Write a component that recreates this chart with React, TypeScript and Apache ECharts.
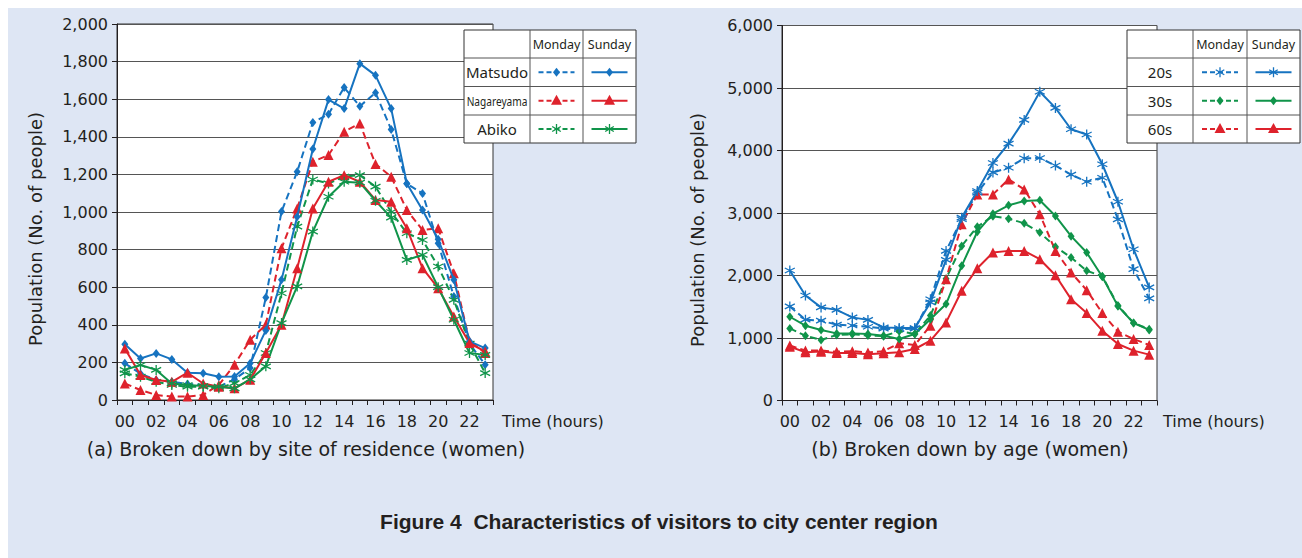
import React, { useEffect, useRef } from 'react';
import * as echarts from 'echarts';

// ---------- data ----------
const hours = ['00','01','02','03','04','05','06','07','08','09','10','11','12','13','14','15','16','17','18','19','20','21','22','23'];

// (a) by site of residence (women)
const matsudoMon = [195,140,106,97,85,80,71,110,170,545,1002,1214,1476,1520,1662,1563,1634,1439,1150,1099,834,550,300,188];
const matsudoSun = [297,221,248,216,145,142,124,125,195,370,639,975,1335,1598,1550,1789,1727,1550,1152,1011,855,640,312,276];
const nagareyamaMon = [88,53,27,18,18,27,80,188,320,400,807,1019,1267,1303,1427,1471,1255,1188,1011,904,913,674,312,250];
const nagareyamaSun = [274,133,106,97,145,88,71,62,108,250,400,701,1019,1161,1196,1161,1064,1055,913,701,595,444,303,258];
const abikoMon = [142,124,97,80,71,71,62,90,133,250,568,922,1173,1152,1188,1196,1135,1000,887,851,710,533,300,143];
const abikoSun = [160,186,160,88,80,74,71,62,110,179,409,604,896,1081,1161,1156,1060,970,745,772,600,427,250,240];

// (b) by age (women)
const age20Mon = [1505,1293,1277,1213,1200,1180,1150,1140,1150,1620,2394,2900,3325,3650,3724,3876,3880,3760,3615,3500,3564,2899,2101,1633];
const age20Sun = [2080,1680,1490,1450,1330,1290,1170,1160,1160,1570,2250,2926,3352,3800,4110,4490,4940,4682,4340,4256,3780,3180,2420,1810];
const age30Mon = [1154,1037,968,1050,1060,1040,1030,1110,1064,1360,1950,2474,2780,2950,2910,2836,2687,2460,2288,2075,1990,1520,1240,1140];
const age30Sun = [1340,1197,1128,1074,1074,1064,1037,984,1064,1300,1543,2155,2700,2990,3123,3192,3205,2953,2630,2367,1980,1510,1240,1130];
const age60Mon = [880,800,800,780,790,770,790,915,888,1197,1941,2819,3298,3298,3538,3378,2979,2394,2048,1766,1399,1101,984,888];
const age60Sun = [862,771,782,761,761,739,755,771,824,957,1250,1755,2117,2367,2394,2394,2261,2005,1622,1399,1117,904,798,734];

const yMaxA = 2000, yStepA = 200;
const yMaxB = 6000, yStepB = 1000;

const tableA = ['Matsudo', 'Nagareyama', 'Abiko'];
const tableB = ['20s', '30s', '60s'];
const dayHeads = ['Monday', 'Sunday'];

// ---------- styles ----------
const BLUE = '#1673c0';
const RED = '#de222c';
const GREEN = '#10944a';
const INK = '#231f20';
const FONT = 'DejaVu Sans';
const ASTER = 'path://M5,0L5,10M0.67,2.5L9.33,7.5M0.67,7.5L9.33,2.5';

type Mk = 'diamond' | 'triangle' | 'aster';

function series(name: string, data: number[], color: string, dashed: boolean, mk: Mk, gi: number) {
  const symbol = mk === 'aster' ? ASTER : mk;
  const size = mk === 'diamond' ? [7, 9] : 10;
  return {
    type: 'line',
    name,
    data,
    xAxisIndex: gi,
    yAxisIndex: gi,
    symbol,
    symbolSize: size,
    showSymbol: true,
    silent: true,
    lineStyle: { color, width: 2, type: dashed ? [7, 4] : 'solid' },
    itemStyle: { color, borderColor: color, borderWidth: mk === 'aster' ? 1.3 : 0 },
    z: dashed ? 3 : 4,
  };
}

function markerEls(mk: Mk, cx: number, cy: number, color: string) {
  if (mk === 'diamond') {
    return [{ type: 'polygon', shape: { points: [[cx, cy - 4.5], [cx + 3.5, cy], [cx, cy + 4.5], [cx - 3.5, cy]] }, style: { fill: color } }];
  }
  if (mk === 'triangle') {
    return [{ type: 'polygon', shape: { points: [[cx, cy - 6], [cx + 5.5, cy + 4], [cx - 5.5, cy + 4]] }, style: { fill: color } }];
  }
  const s = { stroke: color, lineWidth: 1.3 };
  return [
    { type: 'line', shape: { x1: cx, y1: cy - 5, x2: cx, y2: cy + 5 }, style: s },
    { type: 'line', shape: { x1: cx - 4.3, y1: cy - 2.5, x2: cx + 4.3, y2: cy + 2.5 }, style: s },
    { type: 'line', shape: { x1: cx - 4.3, y1: cy + 2.5, x2: cx + 4.3, y2: cy - 2.5 }, style: s },
  ];
}

function table(xs: number[], ys: number[], labels: string[], colors: string[], mks: Mk[], labelFonts: any[]) {
  const els: any[] = [];
  const [x0, x1, x2, x3] = xs;
  els.push({ type: 'rect', shape: { x: x0, y: ys[0], width: x3 - x0, height: ys[4] - ys[0] }, style: { fill: '#fff', stroke: '#333', lineWidth: 1 }, z: 10 });
  [x1, x2].forEach((x) => els.push({ type: 'line', shape: { x1: x, y1: ys[0], x2: x, y2: ys[4] }, style: { stroke: '#555', lineWidth: 1 }, z: 11 }));
  [ys[1], ys[2], ys[3]].forEach((y) => els.push({ type: 'line', shape: { x1: x0, y1: y, x2: x3, y2: y }, style: { stroke: '#555', lineWidth: 1 }, z: 11 }));
  const hy = (ys[0] + ys[1]) / 2;
  [(x1 + x2) / 2, (x2 + x3) / 2].forEach((cx, i) =>
    els.push({ type: 'text', z: 12, style: { x: cx, y: hy, text: dayHeads[i], textAlign: 'center', textVerticalAlign: 'middle', font: '12.5px "Noto Sans"', fill: INK } })
  );
  labels.forEach((lab, r) => {
    const cy = (ys[r + 1] + ys[r + 2]) / 2;
    const lf = labelFonts[r];
    els.push({ type: 'text', z: 12, x: (x0 + x1) / 2, y: cy, scaleX: lf.sx, style: { x: 0, y: 0, text: lab, textAlign: 'center', textVerticalAlign: 'middle', font: lf.font, fill: INK } });
    [(x1 + x2) / 2, (x2 + x3) / 2].forEach((cx, i) => {
      els.push({ type: 'line', z: 12, shape: { x1: cx - 18, y1: cy, x2: cx + 18, y2: cy }, style: { stroke: colors[r], lineWidth: 2, lineDash: i === 0 ? [5, 3] : null } });
      markerEls(mks[r], cx, cy, colors[r]).forEach((m) => els.push({ ...m, z: 13 }));
    });
  });
  return els;
}

function yAxis(gi: number, max: number, step: number) {
  return {
    type: 'value',
    gridIndex: gi,
    min: 0,
    max,
    interval: step,
    axisLine: { show: true, lineStyle: { color: INK, width: 1 } },
    axisTick: { show: true, length: 5, lineStyle: { color: INK } },
    axisLabel: { color: INK, fontSize: 16, fontFamily: FONT, margin: 9, formatter: (v: number) => v.toLocaleString('en-US') },
    splitLine: { show: true, lineStyle: { color: '#555', width: 1 } },
  };
}

function xAxis(gi: number) {
  return {
    type: 'category',
    gridIndex: gi,
    data: hours,
    boundaryGap: true,
    axisLine: { show: true, lineStyle: { color: INK, width: 1 } },
    axisTick: { show: true, interval: 0, length: 5, lineStyle: { color: INK } },
    axisLabel: { interval: 1, color: INK, fontSize: 16, fontFamily: FONT, margin: 13 },
    splitLine: { show: false },
  };
}

const textStyle = (x: number, y: number, text: string, align: string, font: string) => ({
  type: 'text', x, y, style: { x: 0, y: 0, text, textAlign: align, textVerticalAlign: 'middle', font, fill: INK },
});

export default function App() {
  const ref = useRef<HTMLDivElement>(null);
  useEffect(() => {
    document.body.style.margin = '0';
    document.documentElement.style.overflow = 'hidden';
    document.body.style.overflow = 'hidden';
    const chart = echarts.init(ref.current!, null, { renderer: 'svg' });
    const graphic: any[] = [
      { type: 'text', x: 27, y: 221, rotation: Math.PI / 2, style: { x: 0, y: 0, text: 'Population (No. of people)', textAlign: 'center', textVerticalAlign: 'middle', font: '18px "DejaVu Sans"', fill: INK } },
      { type: 'text', x: 689, y: 222, rotation: Math.PI / 2, style: { x: 0, y: 0, text: 'Population (No. of people)', textAlign: 'center', textVerticalAlign: 'middle', font: '18px "DejaVu Sans"', fill: INK } },
      textStyle(494, 413, 'Time (hours)', 'left', '16px "DejaVu Sans"'),
      textStyle(1155, 413, 'Time (hours)', 'left', '16px "DejaVu Sans"'),
      textStyle(298, 441, '(a) Broken down by site of residence (women)', 'center', '19px "DejaVu Sans"'),
      textStyle(962, 441, '(b) Broken down by age (women)', 'center', '19px "DejaVu Sans"'),
      textStyle(651, 513, 'Figure 4\u00a0\u00a0Characteristics of visitors to city center region', 'center', 'bold 21px "Liberation Sans"'),
      ...table([456, 522, 575, 628], [22, 50, 78.5, 107, 135], tableA, [BLUE, RED, GREEN], ['diamond', 'triangle', 'aster'], [
        { font: '15px "Noto Sans"', sx: 1 },
        { font: '13px "Noto Sans"', sx: 0.78 },
        { font: '15px "Noto Sans"', sx: 1 },
      ]),
      ...table([1119, 1185, 1239, 1292], [22, 50, 78.5, 107, 135], tableB, [BLUE, GREEN, RED], ['aster', 'diamond', 'triangle'], [
        { font: '15px "Noto Sans"', sx: 1 },
        { font: '15px "Noto Sans"', sx: 1 },
        { font: '15px "Noto Sans"', sx: 1 },
      ]),
    ];
    chart.setOption({
      animation: false,
      backgroundColor: '#dee6f4',
      grid: [
        { left: 109, top: 16, width: 376, height: 376, show: true, backgroundColor: '#fff', borderColor: '#333', borderWidth: 1 },
        { left: 774, top: 17.5, width: 375, height: 375, show: true, backgroundColor: '#fff', borderColor: '#333', borderWidth: 1 },
      ],
      xAxis: [xAxis(0), xAxis(1)],
      yAxis: [yAxis(0, yMaxA, yStepA), yAxis(1, yMaxB, yStepB)],
      series: [
        series('Matsudo Monday', matsudoMon, BLUE, true, 'diamond', 0),
        series('Nagareyama Monday', nagareyamaMon, RED, true, 'triangle', 0),
        series('Abiko Monday', abikoMon, GREEN, true, 'aster', 0),
        series('Matsudo Sunday', matsudoSun, BLUE, false, 'diamond', 0),
        series('Nagareyama Sunday', nagareyamaSun, RED, false, 'triangle', 0),
        series('Abiko Sunday', abikoSun, GREEN, false, 'aster', 0),
        series('20s Monday', age20Mon, BLUE, true, 'aster', 1),
        series('30s Monday', age30Mon, GREEN, true, 'diamond', 1),
        series('60s Monday', age60Mon, RED, true, 'triangle', 1),
        series('20s Sunday', age20Sun, BLUE, false, 'aster', 1),
        series('30s Sunday', age30Sun, GREEN, false, 'diamond', 1),
        series('60s Sunday', age60Sun, RED, false, 'triangle', 1),
      ],
      graphic,
    });
    return () => chart.dispose();
  }, []);
  return (
    <div style={{ width: 1302, height: 558, padding: '8px 0 0 8px', boxSizing: 'border-box', overflow: 'hidden', background: '#fff' }}>
      <div ref={ref} style={{ width: 1294, height: 550 }} />
    </div>
  );
}
